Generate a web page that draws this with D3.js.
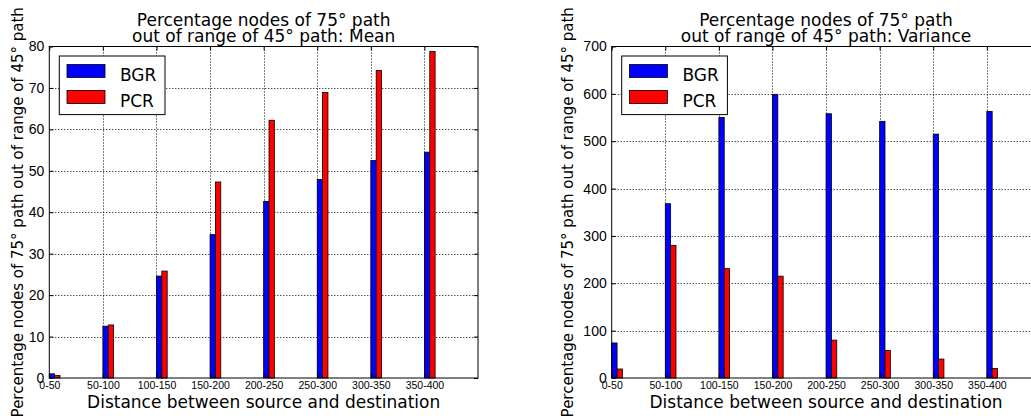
<!DOCTYPE html>
<html lang="en">
<head>
<meta charset="UTF-8">
<title>Percentage nodes of 75° path out of range of 45° path</title>
<script src="https://d3js.org/d3.v7.min.js"></script>
<style>
  body { margin: 0; background: #fff; }
  svg { display: block; font-family: "DejaVu Sans", sans-serif; }
</style>
</head>
<body>
<svg width="1031" height="418"></svg>
<script>
const categories = ["0-50", "50-100", "100-150", "150-200", "200-250", "250-300", "300-350", "350-400"];
const seriesNames = ["BGR", "PCR"];
const seriesColors = ["#0000ff", "#ff0000"];

const meanBGR = [1.0, 12.5, 24.6, 34.6, 42.6, 47.9, 52.5, 54.5];
const meanPCR = [0.6, 12.8, 25.8, 47.3, 62.2, 68.9, 74.2, 78.8];
const meanTicks = [0, 10, 20, 30, 40, 50, 60, 70, 80];

const varBGR = [74, 368, 550, 599, 558, 542, 515, 563];
const varPCR = [19, 280, 231, 215, 80, 58, 40, 20];
const varTicks = [0, 100, 200, 300, 400, 500, 600, 700];

const svg = d3.select("svg");

const panelW = 428.7, axTop = 46.5, axBottom = 378;

function drawPanel(left, titleEnd, series, yTicks, yLabelX) {
  const x = d3.scaleLinear().domain([0, 8]).range([left, left + panelW]);
  const y = d3.scaleLinear().domain([0, d3.max(yTicks)]).range([axBottom, axTop]);
  const g = svg.append("g");

  // grid (dotted)
  g.append("g").selectAll("line").data(d3.range(1, 8)).join("line")
    .attr("x1", d => Math.round(x(d)) + 0.5).attr("x2", d => Math.round(x(d)) + 0.5)
    .attr("y1", axTop).attr("y2", axBottom)
    .attr("stroke", "#000").attr("stroke-width", 1).attr("stroke-dasharray", "1,2");
  g.append("g").selectAll("line").data(yTicks.slice(1, -1)).join("line")
    .attr("x1", left).attr("x2", left + panelW)
    .attr("y1", d => Math.round(y(d)) + 0.5).attr("y2", d => Math.round(y(d)) + 0.5)
    .attr("stroke", "#000").attr("stroke-width", 1).attr("stroke-dasharray", "1,2");

  // bars
  series.forEach((vals, s) => {
    g.append("g").selectAll("rect").data(vals).join("rect")
      .attr("x", (d, i) => x(i + s * 0.1))
      .attr("width", x(0.1) - x(0))
      .attr("y", d => y(d))
      .attr("height", d => y(0) - y(d))
      .attr("fill", seriesColors[s])
      .attr("stroke", "#000").attr("stroke-width", 0.8);
  });

  // axes (inward ticks on all sides)
  const xAxis = d3.axisBottom(x).tickValues(d3.range(0, 8))
    .tickFormat(i => categories[i]).tickSizeInner(-4).tickSizeOuter(0).tickPadding(4);
  const xg = g.append("g").attr("transform", `translate(0,${axBottom})`).call(xAxis);
  xg.selectAll("text").attr("font-size", 10.5).attr("fill", "#000");

  g.append("g").attr("transform", `translate(0,${axTop})`)
    .call(d3.axisTop(x).tickValues(d3.range(0, 8)).tickFormat("").tickSizeInner(-4).tickSizeOuter(0));
  g.append("g").attr("transform", `translate(${left + panelW},0)`)
    .call(d3.axisRight(y).tickValues(yTicks).tickFormat("").tickSizeInner(-4).tickSizeOuter(0));

  const yg = g.append("g").attr("transform", `translate(${left},0)`)
    .call(d3.axisLeft(y).tickValues(yTicks).tickSizeInner(-4).tickSizeOuter(0).tickPadding(5));
  yg.selectAll("text").attr("font-size", 14).attr("fill", "#000");

  g.selectAll(".domain").remove();

  // frame
  g.append("rect").attr("x", left).attr("y", axTop)
    .attr("width", panelW).attr("height", axBottom - axTop)
    .attr("fill", "none").attr("stroke", "#000").attr("stroke-width", 1);

  // title
  const cx = left + panelW / 2;
  g.append("text").attr("x", cx).attr("y", 26).attr("text-anchor", "middle")
    .attr("font-size", 17).text("Percentage nodes of 75° path");
  g.append("text").attr("x", cx).attr("y", 41.7).attr("text-anchor", "middle")
    .attr("font-size", 17).text("out of range of 45° path: " + titleEnd);

  // axis labels
  g.append("text").attr("x", cx).attr("y", 408).attr("text-anchor", "middle")
    .attr("font-size", 17).text("Distance between source and destination");
  g.append("text")
    .attr("transform", `translate(${yLabelX},${(axTop + axBottom) / 2}) rotate(-90)`)
    .attr("text-anchor", "middle").attr("font-size", 15)
    .text("Percentage nodes of 75° path out of range of 45° path");

  // legend
  const lx = left + 10, ly = axTop + 9.5;
  const lg = g.append("g").attr("transform", `translate(${lx},${ly})`);
  lg.append("rect").attr("width", 105.7).attr("height", 58.6)
    .attr("fill", "#fff").attr("stroke", "#000").attr("stroke-width", 1);
  seriesNames.forEach((name, s) => {
    lg.append("rect").attr("x", 7.7).attr("y", 8.5 + s * 26)
      .attr("width", 38).attr("height", 13)
      .attr("fill", seriesColors[s]).attr("stroke", "#000").attr("stroke-width", 0.8);
    lg.append("text").attr("x", 60.7).attr("y", 25 + s * 26)
      .attr("font-size", 17).text(name);
  });
}

drawPanel(49.3, "Mean", [meanBGR, meanPCR], meanTicks, 23);
drawPanel(611.7, "Variance", [varBGR, varPCR], varTicks, 573);
</script>
</body>
</html>
